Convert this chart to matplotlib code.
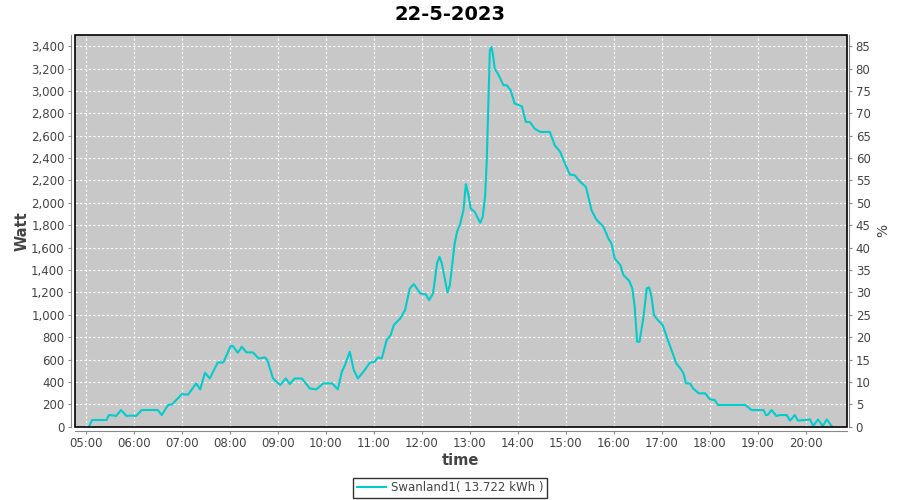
import matplotlib
matplotlib.use("Agg")
import matplotlib.pyplot as plt
from matplotlib.ticker import FuncFormatter, FixedLocator, MultipleLocator
from matplotlib.patches import Rectangle

title = "22-5-2023"
series_name = "Swanland1( 13.722 kWh )"

times = ["05:04", "05:08", "05:26", "05:29", "05:35", "05:38", "05:44", "05:51", "05:56", "06:03",
         "06:10", "06:30", "06:35", "06:43", "06:48", "07:00", "07:08", "07:12", "07:18", "07:23",
         "07:29", "07:35", "07:45", "07:52", "08:01", "08:04", "08:10", "08:15", "08:21", "08:29",
         "08:36", "08:44", "08:47", "08:54", "09:03", "09:10", "09:15", "09:21", "09:30", "09:40",
         "09:48", "09:57", "10:08", "10:15", "10:20", "10:24", "10:30", "10:35", "10:40", "10:47",
         "10:55", "11:01", "11:05", "11:10", "11:16", "11:21", "11:25", "11:33", "11:39", "11:45",
         "11:50", "11:58", "12:05", "12:09", "12:14", "12:19", "12:22", "12:25", "12:32", "12:35",
         "12:41", "12:44", "12:48", "12:52", "12:55", "12:58", "13:01", "13:06", "13:13", "13:16",
         "13:19", "13:21", "13:23", "13:25", "13:27", "13:29", "13:31", "13:35", "13:42", "13:46",
         "13:51", "13:56", "14:05", "14:10", "14:15", "14:21", "14:28", "14:40", "14:46", "14:53",
         "14:57", "15:05", "15:11", "15:18", "15:25", "15:32", "15:38", "15:47", "15:53", "15:57",
         "16:01", "16:08", "16:12", "16:19", "16:23", "16:26", "16:29", "16:32", "16:37", "16:41",
         "16:44", "16:47", "16:50", "16:55", "17:01", "17:06", "17:12", "17:18", "17:23", "17:27",
         "17:30", "17:35", "17:39", "17:46", "17:54", "18:00", "18:06", "18:10", "18:44", "18:52",
         "19:07", "19:10", "19:12", "19:17", "19:23", "19:27", "19:36", "19:40", "19:46", "19:50",
         "20:05", "20:09", "20:15", "20:21", "20:26", "20:32"]

watts = [0, 60, 60, 104, 100, 95, 149, 96, 100, 96,
         149, 149, 104, 194, 200, 290, 287, 327, 387, 333,
         482, 431, 574, 574, 720, 720, 661, 714, 664, 664,
         610, 619, 595, 431, 372, 431, 381, 431, 431, 342,
         333, 387, 387, 333, 491, 551, 670, 506, 431, 491,
         571, 580, 619, 610, 774, 818, 908, 967, 1042, 1236,
         1274, 1191, 1182, 1131, 1191, 1459, 1518, 1459, 1200, 1265,
         1637, 1741, 1816, 1935, 2167, 2083, 1950, 1920, 1822, 1875,
         2054, 2351, 2857, 3363, 3393, 3318, 3200, 3155, 3051, 3051,
         3006, 2887, 2863, 2723, 2723, 2663, 2634, 2634, 2515, 2455,
         2381, 2253, 2247, 2188, 2143, 1935, 1851, 1786, 1682, 1637,
         1503, 1444, 1354, 1304, 1236, 1072, 759, 759, 982, 1236,
         1245, 1161, 997, 952, 908, 803, 684, 565, 521, 476,
         387, 387, 342, 298, 298, 244, 238, 194, 194, 149,
         149, 104, 104, 149, 96, 104, 104, 54, 104, 54,
         65, 6, 65, 6, 65, 6]

hour_ticks = list(range(5, 21))
pct_ticks = list(range(0, 90, 5))


def to_hours(s):
    h, m = s.split(":")
    return int(h) + int(m) / 60


x = [to_hours(t) for t in times]

line_color = "#00CCCC"
tick_color = "#444444"
axis_color = "#888888"

fig = plt.figure(figsize=(9, 5), dpi=100)
ax = fig.add_axes([75 / 900, 1 - 426.7 / 500, (846.7 - 75) / 900, (426.7 - 35) / 500])
ax.set_facecolor("#C8C8C8")

ax.plot(x, watts, color=line_color, lw=1.5, label=series_name, zorder=3)

ax.set_xlim(4.777, 20.848)
ax.set_ylim(0, 3500)
ax.xaxis.set_major_locator(FixedLocator(hour_ticks))
ax.xaxis.set_major_formatter(FuncFormatter(lambda v, p: "%02d:00" % int(round(v))))
ax.yaxis.set_major_locator(MultipleLocator(200))
ax.yaxis.set_major_formatter(FuncFormatter(lambda v, p: "{:,.0f}".format(v)))
ax.grid(True, color="white", linestyle=(0, (2, 2)), lw=0.8)
ax.set_axisbelow(True)

for side in ["top", "right"]:
    ax.spines[side].set_visible(False)
for side in ["left", "bottom"]:
    ax.spines[side].set_position(("outward", 3))
    ax.spines[side].set_color(axis_color)
ax.tick_params(colors=axis_color, labelcolor=tick_color, labelsize=8.5, length=2.5, pad=2, direction="out")

ax2 = ax.twinx()
ax2.set_ylim(0, 3500 / 40)
ax2.yaxis.set_major_locator(FixedLocator(pct_ticks))
for side in ["top", "left", "bottom"]:
    ax2.spines[side].set_visible(False)
ax2.spines["right"].set_position(("outward", 2))
ax2.spines["right"].set_color(axis_color)
ax2.tick_params(colors=axis_color, labelcolor=tick_color, labelsize=8.5, length=2.5, pad=2, direction="out")
ax2.set_ylabel("%", fontsize=10, color=tick_color, labelpad=4)

# plot outline
ax.add_patch(Rectangle((0, 0), 1, 1, transform=ax.transAxes, fill=False,
                       edgecolor="black", lw=1.2, zorder=5, clip_on=False))

ax.set_xlabel("time", fontsize=10.5, fontweight="bold", color=tick_color, labelpad=2)
ax.set_ylabel("Watt", fontsize=10.5, fontweight="bold", color=tick_color, labelpad=1)
fig.suptitle(title, fontsize=14, fontweight="bold", y=0.99)

leg = fig.legend(loc="lower center", bbox_to_anchor=(0.5, -0.007), frameon=True, fancybox=False,
                 fontsize=8.5, handlelength=2.5, borderpad=0.3, handletextpad=0.4)
leg.get_frame().set_edgecolor("black")
leg.get_frame().set_linewidth(1)
for t in leg.get_texts():
    t.set_color(tick_color)

fig.savefig("out.png", dpi=100)
